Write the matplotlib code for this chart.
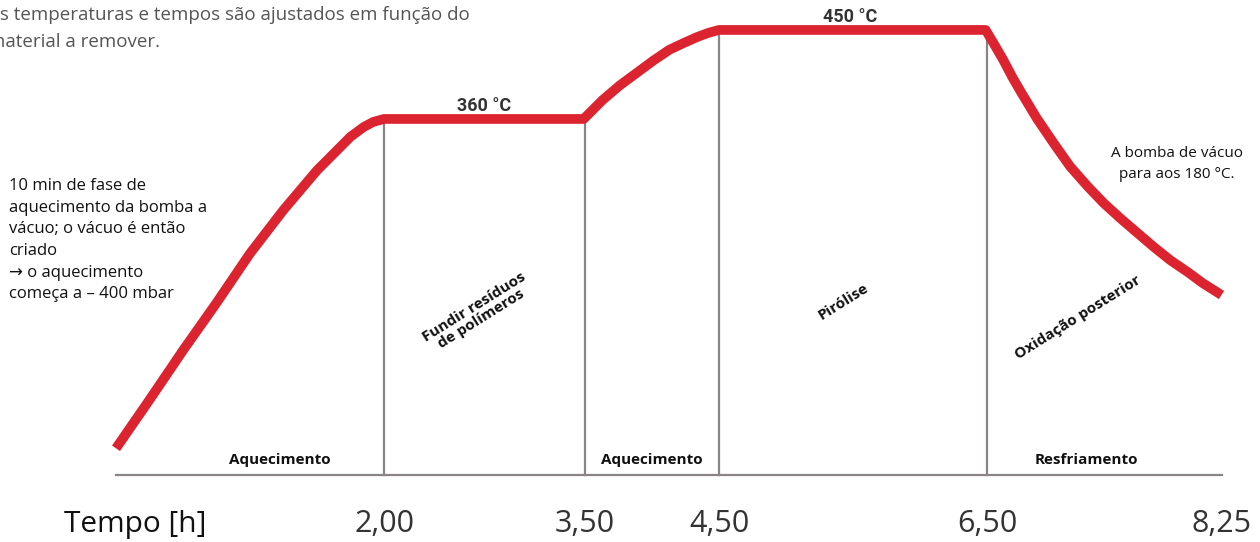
import numpy as np
import matplotlib
matplotlib.use("Agg")
from matplotlib import pyplot as plt

# temperature profile (hours, degC)
heat1_t = [0.0, 0.25, 0.5, 0.75, 1.0, 1.25, 1.5, 1.75, 1.85, 1.92, 2.0]
heat1_T = [27, 76, 126, 174, 224, 268, 308, 342, 352, 357, 360]
hold1_t = [2.0, 3.49]
hold1_T = [360, 360]
heat2_t = [3.49, 3.63, 3.76, 3.89, 4.01, 4.13, 4.24, 4.34, 4.42, 4.5]
heat2_T = [360, 379, 394, 407, 419, 430, 437, 443, 447, 450]
hold2_t = [4.5, 6.49]
hold2_T = [450, 450]
cool_t = [6.49, 6.56, 6.62, 6.69, 6.75, 6.87, 7.0, 7.12, 7.25, 7.37, 7.5, 7.62, 7.75, 7.87, 8.0, 8.11, 8.25]
cool_T = [450, 434, 420, 402, 388, 361, 335, 312, 292, 275, 259, 245, 230, 217, 205, 194, 182]

phase_bounds = [2.0, 3.5, 4.5, 6.5]
tick_vals = [2.0, 3.5, 4.5, 6.5, 8.25]
tick_labels = ["2,00", "3,50", "4,50", "6,50", "8,25"]
x_end = 8.25

bottom_labels = ["Aquecimento", "Aquecimento", "Resfriamento"]
bottom_x = [1.22, 4.0, 7.24]
rot_labels = ["Fundir resíduos\nde polímeros", "Pirólise", "Oxidação posterior"]
rot_x = [2.70, 5.43, 7.18]
rot_y = [164, 175, 159]
temp_labels = ["360 °C", "450 °C"]
temp_x = [2.75, 5.48]
temp_y = [373, 463]

time = np.concatenate([heat1_t, hold1_t[1:], heat2_t[1:], hold2_t[1:], cool_t[1:]])
temp = np.concatenate([heat1_T, hold1_T[1:], heat2_T[1:], hold2_T[1:], cool_T[1:]])

W, H = 1260, 542
fig = plt.figure(figsize=(W / 100, H / 100), dpi=100)
ax = fig.add_axes([0, 0, 1, 1])
ax.axis("off")

# 134 px per hour, 0 h at px 116; 0.989 px per degC, 0 degC at py 475
ax.set_xlim(-116 / 134, (W - 116) / 134)
ax.set_ylim((475 - H) / 0.989, 475 / 0.989)

grey = "#8a8484"
ax.plot([0, x_end], [0, 0], color=grey, lw=1.6, zorder=1)
for b in phase_bounds:
    top = np.interp(b, time, temp)
    ax.plot([b, b], [0, top], color=grey, lw=1.6, zorder=1)

ax.plot(time, temp, color="#dc2430", lw=7, solid_joinstyle="round",
        solid_capstyle="butt", zorder=3)

for v, lab in zip(tick_vals, tick_labels):
    ax.text(v, -57.6, lab, ha="center", va="baseline", fontsize=22,
            color="#333333", family="Open Sans")
ax.text(0.14, -57.6, "Tempo [h]", ha="center", va="baseline", fontsize=21.5,
        color="#111111", family="Open Sans")

for x, lab in zip(bottom_x, bottom_labels):
    ax.text(x, 15, lab, ha="center", va="center", fontsize=11,
            fontweight="bold", color="#111111", family="Open Sans")

for x, y, lab in zip(rot_x, rot_y, rot_labels):
    ax.text(x, y, lab, ha="center", va="center", fontsize=11, rotation=32,
            fontweight="bold", color="#111111", family="Open Sans",
            linespacing=1.0, rotation_mode="anchor")

for x, y, lab in zip(temp_x, temp_y, temp_labels):
    ax.text(x, y, lab, ha="center", va="center", fontsize=13,
            fontweight="bold", color="#333333", family="Roboto")

# notes
fig.text(-12 / W, 1 - 6 / H,
         "As temperaturas e tempos são ajustados em função do\nmaterial a remover.",
         ha="left", va="top", fontsize=13.5, color="#555555",
         family="Open Sans", linespacing=1.62)
fig.text(9 / W, 1 - 178 / H,
         "10 min de fase de\naquecimento da bomba a\nvácuo; o vácuo é então\ncriado\n"
         "→ o aquecimento\ncomeça a – 400 mbar",
         ha="left", va="top", fontsize=12, color="#111111",
         family=["Open Sans", "DejaVu Sans"], linespacing=1.47)
fig.text(1177 / W, 1 - 164 / H, "A bomba de vácuo\npara aos 180 °C.",
         ha="center", va="center", fontsize=11, color="#111111",
         family="Open Sans", linespacing=1.55)

fig.savefig("out.png", dpi=100)
